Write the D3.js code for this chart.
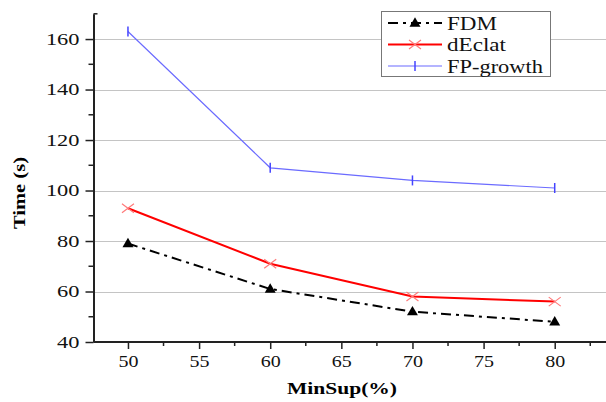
<!DOCTYPE html>
<html>
<head>
<meta charset="utf-8">
<script src="https://cdn.jsdelivr.net/npm/d3@7"></script>
<style>
  body { margin: 0; background: #fff; }
  svg { display: block; }
  svg text { font-family: "Liberation Serif", "Times New Roman", serif !important; }
</style>
</head>
<body>
<svg width="606" height="402"></svg>
<script>
const svg = d3.select("svg");

// Data
const minSup = [50, 60, 70, 80];
const fdm = [79, 61, 52, 48];
const dEclat = [93, 71, 58, 56];
const fpGrowth = [163, 109, 104, 101];
const xTicks = [50, 55, 60, 65, 70, 75, 80];
const yTicks = [40, 60, 80, 100, 120, 140, 160];

// Scales
const x = d3.scaleLinear().domain([47.5, 83.5]).range([92.4, 604.5]);
const y = d3.scaleLinear().domain([40, 170]).range([342, 13.8]);

// Wide-looking serif text like the original export
function stretch(sel, perChar) {
  sel.each(function () {
    const t = d3.select(this);
    t.attr("textLength", t.text().length * perChar).attr("lengthAdjust", "spacingAndGlyphs");
  });
}

// Grid
svg.append("g")
  .selectAll("line")
  .data(yTicks.slice(1))
  .join("line")
  .attr("x1", 94).attr("x2", 606)
  .attr("y1", d => Math.round(y(d)) + 0.5).attr("y2", d => Math.round(y(d)) + 0.5)
  .attr("stroke", "#c4c4c4").attr("stroke-width", 1.2);

// Axes
const xAxis = svg.append("g").attr("transform", "translate(0,342)");
xAxis.call(d3.axisBottom(x).tickValues(xTicks).tickSize(7).tickSizeOuter(0).tickPadding(7));
xAxis.select(".domain").attr("d", "M93.5,0H606");
xAxis.append("g").selectAll("line")
  .data(d3.range(52.5, 83, 5))
  .join("line")
  .attr("x1", d => x(d)).attr("x2", d => x(d))
  .attr("y1", 0).attr("y2", 4)
  .attr("stroke", "#222").attr("stroke-width", 1.5);

const yAxis = svg.append("g").attr("transform", "translate(93.5,0)");
yAxis.call(d3.axisLeft(y).tickValues(yTicks).tickSize(8).tickSizeOuter(0).tickPadding(6));
yAxis.append("g").selectAll("line")
  .data(d3.range(50, 170, 20))
  .join("line")
  .attr("x1", 0).attr("x2", -5)
  .attr("y1", d => y(d)).attr("y2", d => y(d))
  .attr("stroke", "#222").attr("stroke-width", 1.5);
yAxis.append("line")
  .attr("x1", 0).attr("x2", 4)
  .attr("y1", y(170)).attr("y2", y(170))
  .attr("stroke", "#222").attr("stroke-width", 1.5);

[xAxis, yAxis].forEach(a => {
  a.attr("font-family", null).attr("font-size", null);
  a.selectAll(".domain").attr("stroke", "#222").attr("stroke-width", 2);
  a.selectAll(".tick line").attr("stroke", "#222").attr("stroke-width", 1.5);
  a.selectAll(".tick text").attr("fill", "#111");
});
xAxis.selectAll(".tick text").attr("font-size", 16).call(stretch, 10);
yAxis.selectAll(".tick text").attr("font-size", 17).attr("x", -14).call(stretch, 11.2);

// Axis titles
svg.append("text")
  .attr("x", 342).attr("y", 394)
  .attr("text-anchor", "middle")
  .attr("font-size", 17).attr("font-weight", "bold")
  .attr("textLength", 110).attr("lengthAdjust", "spacingAndGlyphs")
  .text("MinSup(%)");
svg.append("text")
  .attr("transform", "translate(25,193) rotate(-90)")
  .attr("text-anchor", "middle")
  .attr("font-size", 17).attr("font-weight", "bold")
  .attr("textLength", 72).attr("lengthAdjust", "spacingAndGlyphs")
  .text("Time (s)");

// Lines
const line = d3.line().x(d => x(d[0])).y(d => y(d[1]));
const series = [
  { name: "FDM", values: fdm, color: "#000", width: 2, dash: "10,5,3,5", marker: "tri", len: 50 },
  { name: "dEclat", values: dEclat, color: "#ff0000", width: 2, dash: null, marker: "x", len: 59 },
  { name: "FP-growth", values: fpGrowth, color: "#6b6bff", width: 1.2, dash: null, marker: "bar", len: 96 }
];

function drawMarker(g, type, cx, cy) {
  if (type === "tri") {
    g.append("path")
      .attr("d", d3.symbol(d3.symbolTriangle, 52)())
      .attr("transform", `translate(${cx},${cy + 0.5})`)
      .attr("fill", "#000");
  } else if (type === "x") {
    g.append("path")
      .attr("d", `M${cx - 6},${cy - 4.5}L${cx + 6},${cy + 4.5}M${cx - 6},${cy + 4.5}L${cx + 6},${cy - 4.5}`)
      .attr("stroke", "#ff7a7a").attr("stroke-width", 1.2).attr("fill", "none");
  } else {
    g.append("line")
      .attr("x1", cx).attr("x2", cx).attr("y1", cy - 5).attr("y2", cy + 5)
      .attr("stroke", "#4444ff").attr("stroke-width", 1.5);
  }
}

series.slice().reverse().forEach(s => {
  const pts = minSup.map((m, i) => [m, s.values[i]]);
  svg.append("path")
    .datum(pts)
    .attr("d", line)
    .attr("fill", "none")
    .attr("stroke", s.color)
    .attr("stroke-width", s.width)
    .attr("stroke-dasharray", s.dash);
  const mg = svg.append("g");
  pts.forEach(p => drawMarker(mg, s.marker, x(p[0]), y(p[1])));
});

// Legend
const lg = svg.append("g");
lg.append("rect")
  .attr("x", 381.5).attr("y", 11.5).attr("width", 169).attr("height", 65)
  .attr("fill", "#fff").attr("stroke", "#777").attr("stroke-width", 1);
series.forEach((s, i) => {
  const cy = 23 + i * 21.5;
  lg.append("line")
    .attr("x1", 388).attr("x2", 442).attr("y1", cy).attr("y2", cy)
    .attr("stroke", s.color).attr("stroke-width", s.width)
    .attr("stroke-dasharray", s.dash);
  drawMarker(lg, s.marker, 415, cy);
  lg.append("text")
    .attr("x", 447).attr("y", cy + 6.5)
    .attr("font-size", 19).attr("fill", "#111")
    .attr("textLength", s.len).attr("lengthAdjust", "spacingAndGlyphs")
    .text(s.name);
});
</script>
</body>
</html>
